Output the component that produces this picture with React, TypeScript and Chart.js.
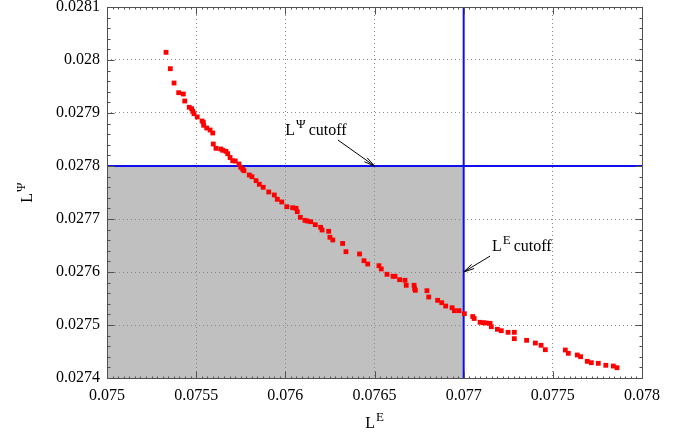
import React, { useEffect, useRef } from "react";
import { Chart, registerables } from "chart.js";
Chart.register(...registerables);

// ---- data ----
const xValues = [
  0.075331, 0.075355, 0.075376, 0.075402, 0.075428, 0.075436, 0.075461, 0.075475, 0.075481, 0.075488,
  0.075506, 0.075533, 0.07554, 0.075542, 0.075559, 0.075578, 0.075593, 0.075596, 0.075611, 0.075638,
  0.075649, 0.075667, 0.075677, 0.07569, 0.075705, 0.075719, 0.07574, 0.07575, 0.075761, 0.075768,
  0.075798, 0.075813, 0.075836, 0.075854, 0.075876, 0.075907, 0.075938, 0.075955, 0.07598, 0.076008,
  0.076041, 0.07606, 0.076067, 0.076084, 0.07611, 0.076123, 0.076142, 0.076168, 0.076198, 0.076206,
  0.076243, 0.07625, 0.076266, 0.076321, 0.07634, 0.076416, 0.076441, 0.076462, 0.076525, 0.076538,
  0.07657, 0.076604, 0.076615, 0.076641, 0.076671, 0.076678, 0.076722, 0.076725, 0.076729, 0.076794,
  0.076804, 0.076854, 0.076877, 0.076899, 0.076935, 0.076948, 0.076974, 0.077004, 0.077051, 0.077059,
  0.077092, 0.07711, 0.077125, 0.077148, 0.077155, 0.077189, 0.077211, 0.077249, 0.077284, 0.077284,
  0.077353, 0.077402, 0.077434, 0.077458, 0.07757, 0.077587, 0.077637, 0.077656, 0.077693, 0.077716,
  0.077755, 0.077797, 0.077839, 0.07786,
];
const yValues = [
  0.0280145, 0.0279836, 0.0279566, 0.0279383, 0.0279358, 0.0279226, 0.0279108, 0.0279081, 0.0279032, 0.0278987,
  0.0278925, 0.0278849, 0.0278825, 0.0278768, 0.0278717, 0.0278679, 0.0278623, 0.0278415, 0.0278334, 0.0278321,
  0.0278296, 0.0278277, 0.0278232, 0.027816, 0.02781, 0.0278094, 0.0278038, 0.0277975, 0.0277938, 0.0277911,
  0.027783, 0.0277798, 0.0277723, 0.0277655, 0.0277598, 0.027751, 0.0277453, 0.0277372, 0.0277321, 0.0277232,
  0.0277213, 0.0277202, 0.0277138, 0.0277032, 0.0276975, 0.0276962, 0.0276949, 0.0276892, 0.0276843, 0.0276792,
  0.0276768, 0.0276655, 0.0276604, 0.0276538, 0.0276383, 0.027634, 0.0276213, 0.0276151, 0.0276119, 0.0276057,
  0.0275957, 0.0275919, 0.0275919, 0.0275855, 0.0275843, 0.0275749, 0.0275749, 0.0275685, 0.0275655, 0.0275647,
  0.0275528, 0.0275466, 0.0275421, 0.0275358, 0.0275326, 0.027527, 0.027527, 0.0275213, 0.027516, 0.0275123,
  0.0275051, 0.0275043, 0.0275038, 0.0275032, 0.0274968, 0.0274919, 0.0274892, 0.0274862, 0.0274862, 0.0274742,
  0.0274711, 0.027466, 0.0274617, 0.0274534, 0.0274528, 0.0274466, 0.0274434, 0.0274402, 0.0274315, 0.0274289,
  0.0274277, 0.027424, 0.0274226, 0.0274194,
];

const xTicks = [0.075, 0.0755, 0.076, 0.0765, 0.077, 0.0775, 0.078];
const xTickLabels = ["0.075", "0.0755", "0.076", "0.0765", "0.077", "0.0775", "0.078"];
const yTicks = [0.0274, 0.0275, 0.0276, 0.0277, 0.0278, 0.0279, 0.028, 0.0281];
const yTickLabels = ["0.0274", "0.0275", "0.0276", "0.0277", "0.0278", "0.0279", "0.028", "0.0281"];

const xCutoff = 0.077;
const yCutoff = 0.0278;

// annotation anchors (data coordinates)
const psiLabelAt = [0.076, 0.027858];
const psiArrowFrom = [0.076295, 0.027849];
const psiArrowTo = [0.0765, 0.0278];
const eLabelAt = [0.077159, 0.02764];
const eArrowFrom = [0.077148, 0.02763];
const eArrowTo = [0.077, 0.0276];

const FONT = '"Liberation Serif", "DejaVu Serif", "Times New Roman", serif';

function drawSupText(ctx: CanvasRenderingContext2D, base: string, sup: string, rest: string, x: number, y: number) {
  ctx.textAlign = "left";
  ctx.textBaseline = "alphabetic";
  ctx.font = `16px ${FONT}`;
  ctx.fillText(base, x, y);
  let cx = x + ctx.measureText(base).width + 1;
  ctx.font = `13px ${FONT}`;
  ctx.fillText(sup, cx, y - 7);
  cx += ctx.measureText(sup).width;
  if (rest) {
    ctx.font = `16px ${FONT}`;
    ctx.fillText(rest, cx + 3, y);
  }
}

function supWidth(ctx: CanvasRenderingContext2D, base: string, sup: string) {
  ctx.font = `16px ${FONT}`;
  const a = ctx.measureText(base).width + 1;
  ctx.font = `13px ${FONT}`;
  return a + ctx.measureText(sup).width;
}

function drawArrow(ctx: CanvasRenderingContext2D, x1: number, y1: number, x2: number, y2: number) {
  ctx.save();
  ctx.strokeStyle = "#000";
  ctx.fillStyle = "#000";
  ctx.lineWidth = 1;
  ctx.beginPath();
  ctx.moveTo(x1, y1);
  ctx.lineTo(x2, y2);
  ctx.stroke();
  const ang = Math.atan2(y2 - y1, x2 - x1);
  const len = 11;
  const spread = 0.22;
  ctx.beginPath();
  ctx.moveTo(x2, y2);
  ctx.lineTo(x2 - len * Math.cos(ang - spread), y2 - len * Math.sin(ang - spread));
  ctx.moveTo(x2, y2);
  ctx.lineTo(x2 - len * Math.cos(ang + spread), y2 - len * Math.sin(ang + spread));
  ctx.stroke();
  ctx.restore();
}

const decorPlugin = {
  id: "decor",
  beforeDraw(chart: any) {
    const { ctx, chartArea: a, scales } = chart;
    const xs = scales.x, ys = scales.y;
    ctx.save();
    ctx.fillStyle = "#c0c0c0";
    const xr = xs.getPixelForValue(xCutoff);
    const yt = ys.getPixelForValue(yCutoff);
    ctx.fillRect(a.left, yt, xr - a.left, a.bottom - yt);
    ctx.restore();
  },
  beforeDatasetsDraw(chart: any) {
    const { ctx, chartArea: a, scales } = chart;
    const xs = scales.x, ys = scales.y;
    ctx.save();
    ctx.strokeStyle = "#1010ee";
    ctx.lineWidth = 2;
    const xr = xs.getPixelForValue(xCutoff);
    const yt = ys.getPixelForValue(yCutoff);
    ctx.beginPath();
    ctx.moveTo(a.left, yt);
    ctx.lineTo(a.right, yt);
    ctx.moveTo(xr, a.top);
    ctx.lineTo(xr, a.bottom);
    ctx.stroke();
    ctx.restore();
  },
  afterDatasetsDraw(chart: any) {
    const { ctx, chartArea: a, scales } = chart;
    const xs = scales.x, ys = scales.y;
    ctx.save();
    // border
    ctx.strokeStyle = "#505050";
    ctx.lineWidth = 1;
    const L = Math.round(a.left) + 0.5, R = Math.round(a.right) + 0.5;
    const T = Math.round(a.top) + 0.5, B = Math.round(a.bottom) + 0.5;
    ctx.strokeRect(L, T, R - L, B - T);
    // ticks
    ctx.beginPath();
    const xMin = xs.min, xMax = xs.max, yMin = ys.min, yMax = ys.max;
    const xMinorStep = 0.0005 / 16;
    for (let i = 0; ; i++) {
      const v = xMin + i * xMinorStep;
      if (v > xMax + 1e-12) break;
      const px = Math.round(xs.getPixelForValue(v)) + 0.5;
      const major = i % 16 === 0;
      const len = major ? 7 : 2;
      ctx.moveTo(px, B); ctx.lineTo(px, B - len);
      ctx.moveTo(px, T); ctx.lineTo(px, T + len);
    }
    const yMinorStep = 0.00002;
    for (let i = 0; ; i++) {
      const v = yMin + i * yMinorStep;
      if (v > yMax + 1e-12) break;
      const py = Math.round(ys.getPixelForValue(v)) + 0.5;
      const major = i % 5 === 0;
      const len = major ? 7 : 3;
      ctx.moveTo(L, py); ctx.lineTo(L + len, py);
      ctx.moveTo(R, py); ctx.lineTo(R - len, py);
    }
    ctx.stroke();

    // annotations
    ctx.fillStyle = "#000";
    drawSupText(ctx, "L", "\u03A8", "cutoff", xs.getPixelForValue(psiLabelAt[0]), ys.getPixelForValue(psiLabelAt[1]));
    drawArrow(ctx,
      xs.getPixelForValue(psiArrowFrom[0]), ys.getPixelForValue(psiArrowFrom[1]),
      xs.getPixelForValue(psiArrowTo[0]), ys.getPixelForValue(psiArrowTo[1]));
    drawSupText(ctx, "L", "E", "cutoff", xs.getPixelForValue(eLabelAt[0]), ys.getPixelForValue(eLabelAt[1]));
    drawArrow(ctx,
      xs.getPixelForValue(eArrowFrom[0]), ys.getPixelForValue(eArrowFrom[1]),
      xs.getPixelForValue(eArrowTo[0]), ys.getPixelForValue(eArrowTo[1]));

    // axis titles
    const cxMid = (a.left + a.right) / 2;
    const wE = supWidth(ctx, "L", "E");
    drawSupText(ctx, "L", "E", "", cxMid - wE / 2, 428);
    const cyMid = (a.top + a.bottom) / 2;
    ctx.save();
    ctx.translate(32, cyMid);
    ctx.rotate(-Math.PI / 2);
    const wP = supWidth(ctx, "L", "\u03A8");
    drawSupText(ctx, "L", "\u03A8", "", -wP / 2, 0);
    ctx.restore();
    ctx.restore();
  },
};

export default function App() {
  const ref = useRef<HTMLCanvasElement | null>(null);
  useEffect(() => {
    document.body.style.margin = "0";
    const canvas = ref.current;
    if (!canvas) return;
    const chart = new Chart(canvas, {
      type: "scatter",
      data: {
        datasets: [
          {
            data: xValues.map((x, i) => ({ x, y: yValues[i] })),
            backgroundColor: "#ff0000",
            borderWidth: 0,
            pointStyle: "rect",
            pointRadius: 3.4,
            pointHoverRadius: 3.4,
          },
        ],
      },
      options: {
        animation: false,
        responsive: false,
        devicePixelRatio: 1,
        events: [],
        layout: { padding: { top: 7, right: 51, left: 0, bottom: 0 } },
        plugins: { legend: { display: false }, tooltip: { enabled: false }, title: { display: false } },
        scales: {
          x: {
            type: "linear",
            min: 0.075,
            max: 0.078,
            afterBuildTicks: (s: any) => { s.ticks = xTicks.map((v) => ({ value: v })); },
            afterFit: (s: any) => { s.height = 57; s.paddingLeft = 0; s.paddingRight = 0; },
            ticks: {
              callback: (_v: any, i: number) => xTickLabels[i],
              autoSkip: false,
              maxRotation: 0,
              padding: 8,
              color: "#000",
              font: { family: FONT, size: 16 },
            },
            grid: { color: "#8a8a8a", drawTicks: false, lineWidth: 1 },
            border: { display: false, dash: [1, 3] },
          },
          y: {
            type: "linear",
            min: 0.0274,
            max: 0.0281,
            afterBuildTicks: (s: any) => { s.ticks = yTicks.map((v) => ({ value: v })); },
            afterFit: (s: any) => { s.width = 107; s.paddingTop = 0; s.paddingBottom = 0; },
            ticks: {
              callback: (_v: any, i: number) => yTickLabels[i],
              autoSkip: false,
              padding: 7,
              color: "#000",
              font: { family: FONT, size: 16 },
            },
            grid: { color: "#8a8a8a", drawTicks: false, lineWidth: 1 },
            border: { display: false, dash: [1, 3] },
          },
        },
      },
      plugins: [decorPlugin],
    } as any);
    return () => chart.destroy();
  }, []);
  return (
    <div style={{ width: 693, height: 435 }}>
      <canvas ref={ref} width={693} height={435} style={{ display: "block", width: 693, height: 435 }} />
    </div>
  );
}
